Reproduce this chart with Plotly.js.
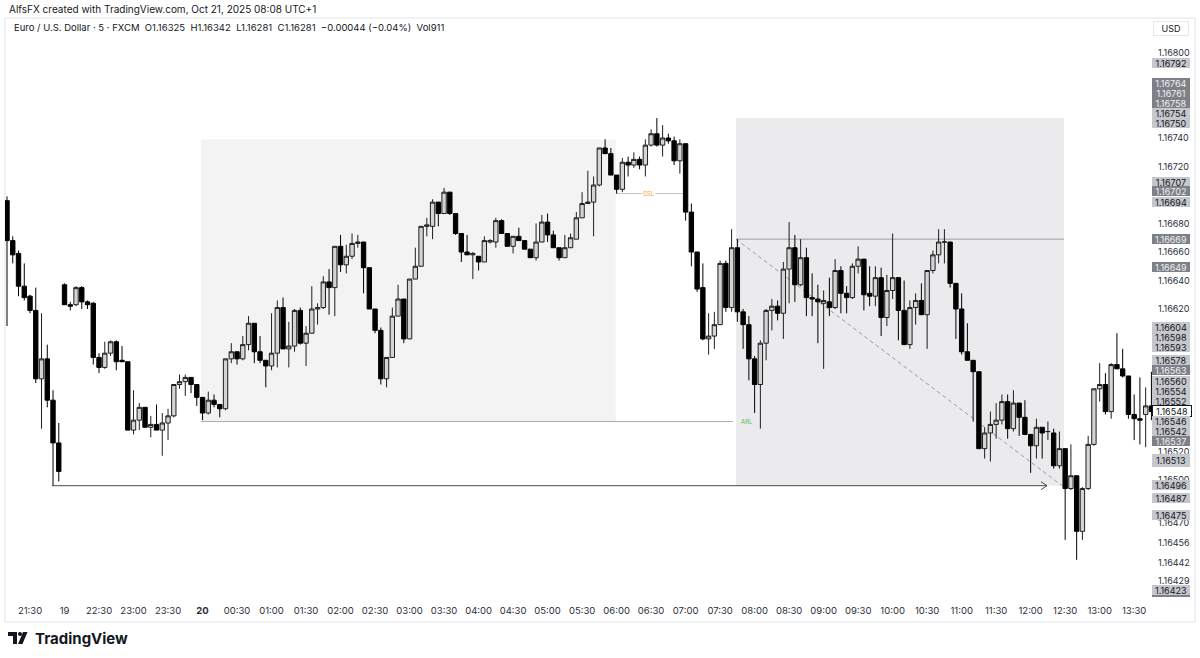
<!DOCTYPE html>
<html>
<head>
<meta charset="utf-8">
<script src="https://cdn.plot.ly/plotly-3.0.1.min.js"></script>
<style>html,body{margin:0;padding:0;background:#fff;}#chart{width:1200px;height:658px;}</style>
</head>
<body>
<div id="chart"></div>
<script>
// ---- DATA (EUR/USD 5m, FXCM) ----
const open = [1.16696,1.16668,1.16659,1.16636,1.16629,1.16619,1.16571,1.16585,1.16556,1.16526,
1.16637,1.16623,1.16623,1.16635,1.16625,1.16624,1.16586,1.16579,1.16589,1.16597,
1.16584,1.16583,1.16535,1.16542,1.16551,1.16537,1.16539,1.16535,1.16540,1.16545,
1.16567,1.16569,1.16572,1.16567,1.16558,1.16547,1.16556,1.16553,1.16550,1.16585,
1.16590,1.16585,1.16595,1.16610,1.16590,1.16584,1.16580,1.16589,1.16621,1.16592,
1.16594,1.16619,1.16596,1.16603,1.16620,1.16621,1.16639,1.16635,1.16664,1.16651,
1.16657,1.16666,1.16667,1.16649,1.16620,1.16605,1.16571,1.16586,1.16615,1.16627,
1.16599,1.16641,1.16650,1.16678,1.16678,1.16695,1.16687,1.16702,1.16687,1.16673,
1.16660,1.16658,1.16657,1.16653,1.16667,1.16667,1.16682,1.16673,1.16664,1.16671,
1.16668,1.16662,1.16656,1.16667,1.16681,1.16672,1.16663,1.16656,1.16663,1.16669,
1.16684,1.16694,1.16695,1.16707,1.16733,1.16729,1.16714,1.16704,1.16723,1.16721,
1.16725,1.16721,1.16735,1.16743,1.16735,1.16740,1.16738,1.16724,1.16736,1.16688,
1.16660,1.16635,1.16599,1.16601,1.16609,1.16652,1.16621,1.16663,1.16618,1.16609,
1.16585,1.16567,1.16596,1.16619,1.16622,1.16617,1.16648,1.16663,1.16637,1.16656,
1.16628,1.16627,1.16624,1.16625,1.16621,1.16647,1.16631,1.16628,1.16650,1.16655,
1.16631,1.16629,1.16642,1.16614,1.16633,1.16642,1.16619,1.16595,1.16621,1.16626,
1.16616,1.16647,1.16658,1.16667,1.16667,1.16638,1.16620,1.16590,1.16584,1.16576,
1.16522,1.16533,1.16539,1.16542,1.16555,1.16536,1.16554,1.16544,1.16532,1.16524,
1.16537,1.16534,1.16533,1.16510,1.16522,1.16494,1.16503,1.16464,1.16494,1.16525,
1.16564,1.16567,1.16548,1.16581,1.16578,1.16573,1.16546,1.16543,1.16546,1.16552];
const high = [1.16699,1.16671,1.16661,1.16652,1.16630,1.16635,1.16617,1.16595,1.16563,1.16540,
1.16638,1.16625,1.16636,1.16636,1.16626,1.16625,1.16589,1.16597,1.16598,1.16598,
1.16594,1.16583,1.16563,1.16554,1.16551,1.16545,1.16553,1.16547,1.16550,1.16567,
1.16574,1.16574,1.16572,1.16567,1.16558,1.16562,1.16560,1.16553,1.16585,1.16596,
1.16590,1.16601,1.16615,1.16610,1.16601,1.16584,1.16617,1.16626,1.16628,1.16611,
1.16620,1.16621,1.16608,1.16636,1.16624,1.16643,1.16648,1.16664,1.16672,1.16665,
1.16673,1.16672,1.16667,1.16649,1.16620,1.16607,1.16586,1.16621,1.16637,1.16627,
1.16641,1.16663,1.16678,1.16684,1.16697,1.16695,1.16705,1.16702,1.16687,1.16673,
1.16672,1.16660,1.16657,1.16671,1.16669,1.16684,1.16683,1.16673,1.16671,1.16677,
1.16668,1.16662,1.16680,1.16686,1.16687,1.16675,1.16663,1.16672,1.16673,1.16688,
1.16702,1.16717,1.16713,1.16733,1.16739,1.16733,1.16714,1.16726,1.16727,1.16730,
1.16727,1.16739,1.16746,1.16754,1.16749,1.16743,1.16741,1.16739,1.16736,1.16694,
1.16660,1.16652,1.16617,1.16618,1.16654,1.16654,1.16676,1.16669,1.16620,1.16615,
1.16587,1.16598,1.16620,1.16627,1.16626,1.16653,1.16681,1.16672,1.16669,1.16663,
1.16645,1.16637,1.16633,1.16642,1.16655,1.16650,1.16636,1.16652,1.16664,1.16655,
1.16650,1.16650,1.16649,1.16644,1.16673,1.16642,1.16640,1.16626,1.16631,1.16638,
1.16647,1.16661,1.16676,1.16676,1.16667,1.16638,1.16631,1.16610,1.16584,1.16576,
1.16537,1.16548,1.16554,1.16560,1.16560,1.16563,1.16554,1.16556,1.16532,1.16543,
1.16537,1.16541,1.16536,1.16534,1.16522,1.16525,1.16503,1.16495,1.16531,1.16564,
1.16582,1.16575,1.16582,1.16603,1.16592,1.16573,1.16560,1.16572,1.16565,1.16576];
const low = [1.16608,1.16652,1.16629,1.16626,1.16617,1.16568,1.16536,1.16551,1.16496,1.16499,
1.16623,1.16619,1.16622,1.16620,1.16620,1.16581,1.16575,1.16578,1.16587,1.16577,
1.16583,1.16535,1.16532,1.16535,1.16537,1.16530,1.16535,1.16517,1.16528,1.16544,
1.16564,1.16559,1.16561,1.16552,1.16542,1.16546,1.16551,1.16544,1.16549,1.16582,
1.16581,1.16584,1.16591,1.16582,1.16582,1.16565,1.16577,1.16579,1.16592,1.16579,
1.16590,1.16595,1.16580,1.16603,1.16609,1.16620,1.16616,1.16615,1.16646,1.16645,
1.16655,1.16663,1.16631,1.16620,1.16603,1.16567,1.16565,1.16586,1.16615,1.16596,
1.16599,1.16641,1.16650,1.16671,1.16669,1.16678,1.16687,1.16686,1.16672,1.16653,
1.16658,1.16641,1.16647,1.16653,1.16666,1.16663,1.16673,1.16664,1.16659,1.16668,
1.16662,1.16656,1.16654,1.16667,1.16667,1.16663,1.16654,1.16656,1.16663,1.16669,
1.16684,1.16694,1.16671,1.16706,1.16729,1.16714,1.16701,1.16702,1.16713,1.16719,
1.16718,1.16713,1.16734,1.16734,1.16727,1.16736,1.16721,1.16715,1.16682,1.16650,
1.16632,1.16598,1.16588,1.16592,1.16609,1.16618,1.16618,1.16611,1.16592,1.16570,
1.16547,1.16536,1.16584,1.16605,1.16612,1.16599,1.16624,1.16625,1.16636,1.16615,
1.16615,1.16596,1.16578,1.16615,1.16620,1.16617,1.16617,1.16627,1.16645,1.16619,
1.16622,1.16622,1.16601,1.16608,1.16627,1.16598,1.16595,1.16592,1.16609,1.16616,
1.16592,1.16645,1.16652,1.16652,1.16635,1.16599,1.16588,1.16584,1.16541,1.16522,
1.16515,1.16513,1.16529,1.16539,1.16529,1.16534,1.16531,1.16532,1.16505,1.16515,
1.16515,1.16528,1.16508,1.16508,1.16458,1.16493,1.16444,1.16458,1.16493,1.16524,
1.16555,1.16546,1.16543,1.16578,1.16572,1.16543,1.16528,1.16525,1.16523,1.16542];
const close = [1.16668,1.16658,1.16636,1.16628,1.16619,1.16571,1.16585,1.16556,1.16526,1.16506,
1.16623,1.16622,1.16635,1.16625,1.16623,1.16586,1.16579,1.16589,1.16597,1.16583,
1.16583,1.16535,1.16542,1.16551,1.16537,1.16539,1.16535,1.16540,1.16545,1.16567,
1.16569,1.16572,1.16567,1.16558,1.16547,1.16556,1.16553,1.16550,1.16585,1.16590,
1.16585,1.16595,1.16610,1.16590,1.16584,1.16580,1.16589,1.16621,1.16592,1.16594,
1.16619,1.16596,1.16603,1.16620,1.16621,1.16639,1.16635,1.16664,1.16651,1.16657,
1.16666,1.16667,1.16649,1.16620,1.16605,1.16571,1.16586,1.16615,1.16627,1.16599,
1.16641,1.16650,1.16678,1.16679,1.16695,1.16687,1.16702,1.16687,1.16673,1.16660,
1.16658,1.16659,1.16653,1.16668,1.16668,1.16682,1.16673,1.16664,1.16671,1.16668,
1.16662,1.16656,1.16667,1.16681,1.16672,1.16663,1.16656,1.16663,1.16670,1.16684,
1.16694,1.16695,1.16707,1.16733,1.16729,1.16714,1.16704,1.16723,1.16721,1.16725,
1.16721,1.16735,1.16743,1.16735,1.16740,1.16738,1.16724,1.16736,1.16688,1.16660,
1.16634,1.16599,1.16601,1.16609,1.16652,1.16621,1.16663,1.16618,1.16609,1.16585,
1.16567,1.16596,1.16619,1.16622,1.16617,1.16648,1.16663,1.16637,1.16656,1.16628,
1.16627,1.16625,1.16626,1.16621,1.16647,1.16631,1.16628,1.16650,1.16655,1.16630,
1.16629,1.16642,1.16614,1.16633,1.16642,1.16619,1.16595,1.16621,1.16626,1.16616,
1.16647,1.16658,1.16667,1.16667,1.16638,1.16620,1.16590,1.16584,1.16576,1.16522,
1.16533,1.16539,1.16542,1.16555,1.16536,1.16554,1.16544,1.16532,1.16524,1.16537,
1.16533,1.16534,1.16510,1.16522,1.16494,1.16503,1.16464,1.16494,1.16525,1.16564,
1.16567,1.16548,1.16581,1.16578,1.16573,1.16546,1.16543,1.16542,1.16552,1.16548];

const timeLabels = ["21:30","19","22:30","23:00","23:30","<b>20</b>","00:30","01:00","01:30","02:00","02:30","03:00","03:30","04:00","04:30","05:00","05:30","06:00","06:30","07:00","07:30","08:00","08:30","09:00","09:30","10:00","10:30","11:00","11:30","12:00","12:30","13:00","13:30"];
const priceTicks = [1.16800,1.16740,1.16720,1.16680,1.16660,1.16640,1.16620,1.16520,1.16500,1.16470,1.16456,1.16442,1.16429];
// price-scale labels: [value, style]  L=light, D=dark, W=current
const axisLabels = [
 ["1.16792","L"],["1.16764","D"],["1.16761","D"],["1.16758","D"],["1.16754","L"],["1.16750","L"],
 ["1.16707","L"],["1.16702","D"],["1.16694","L"],["1.16669","D"],["1.16649","D"],
 ["1.16604","L"],["1.16598","L"],["1.16593","L"],["1.16578","L"],["1.16563","D"],["1.16560","L"],
 ["1.16554","L"],["1.16552","L"],["1.16548","W"],["1.16546","L"],["1.16542","L"],["1.16537","D"],
 ["1.16513","L"],["1.16496","L"],["1.16487","L"],["1.16475","L"],["1.16423","L"]
];
// drawings (price levels)
const zoneA = {top:1.16739, bottom:1.16541};
const zoneB = {top:1.16754, bottom:1.16496};
const levelRange = 1.16669;
const levelSSL = 1.16701;
const levelARL = 1.16541;
const levelTarget = 1.16496;

// ---- LAYOUT GEOMETRY ----
const ML=5, MT=18, MR=48, MB=61, W=1200, H=658;
const PW=W-ML-MR, PH=H-MT-MB;
const px2x = p => (p-ML)/PW;
const py2y = p => (H-MB-p)/PH;
const xr=[-0.35,199.1];
const kx = px => xr[0] + (px-ML)/PW*(xr[1]-xr[0]);  // pixel -> candle index
const idx = open.map((_,i)=>i);
const tickIdx = timeLabels.map((_,j)=>4+6*j);

const FONT = "Inter, 'Noto Sans', Roboto, sans-serif";

const trace = {
  type:'candlestick', x:idx, open:open, high:high, low:low, close:close,
  increasing:{line:{color:'#1e1e1e',width:1}, fillcolor:'#d4d4d6'},
  decreasing:{line:{color:'#000000',width:1}, fillcolor:'#000000'},
  whiskerwidth:0, hoverinfo:'skip', showlegend:false
};

const shapes = [
  {type:'rect', xref:'paper', yref:'paper', x0:px2x(5), x1:px2x(1195), y0:py2y(622), y1:py2y(18), line:{color:'#e0e3eb',width:1}, fillcolor:'rgba(0,0,0,0)', layer:'below'},
  {type:'rect', x0:kx(201), x1:kx(615.7), y0:zoneA.bottom, y1:zoneA.top, fillcolor:'#f3f3f4', line:{width:0}, layer:'below'},
  {type:'rect', x0:kx(736), x1:kx(1064), y0:zoneB.bottom, y1:zoneB.top, fillcolor:'#ebebed', line:{width:0}, layer:'below'},
  {type:'line', x0:kx(736), x1:kx(1064), y0:levelRange, y1:levelRange, line:{color:'#9c9ea5',width:1}, layer:'below'},
  {type:'line', x0:kx(736), x1:kx(1062), y0:levelRange, y1:levelTarget, line:{color:'#9a9a9a',width:1,dash:'4px,3px'}, layer:'below'},
  {type:'line', x0:kx(201), x1:kx(733), y0:levelARL, y1:levelARL, line:{color:'#a9abb1',width:1}, layer:'below'},
  {type:'line', x0:kx(615.7), x1:kx(683), y0:levelSSL, y1:levelSSL, line:{color:'#c4c4c4',width:1}, layer:'below'},
  {type:'line', x0:kx(52), x1:kx(1047), y0:levelTarget, y1:levelTarget, line:{color:'#4a4a4a',width:1}, layer:'above'},
  {type:'path', xsizemode:'pixel', ysizemode:'pixel', xanchor:kx(1047), yanchor:levelTarget, path:'M-6,4 L0,0 L-6,-4', line:{color:'#4a4a4a',width:1}, layer:'above'},
  {type:'rect', xref:'paper', yref:'paper', x0:px2x(1152), x1:px2x(1190), y0:py2y(597), y1:py2y(595), fillcolor:'#7e8088', line:{width:0}},
  {type:'path', xref:'paper', yref:'paper', path:`M${px2x(8)},${py2y(632)} L${px2x(17)},${py2y(632)} L${px2x(17)},${py2y(644)} L${px2x(13)},${py2y(644)} L${px2x(13)},${py2y(636)} L${px2x(8)},${py2y(636)} Z`, fillcolor:'#131722', line:{width:0}},
  {type:'circle', xref:'paper', yref:'paper', x0:px2x(18), x1:px2x(22), y0:py2y(636), y1:py2y(632), fillcolor:'#131722', line:{width:0}},
  {type:'path', xref:'paper', yref:'paper', path:`M${px2x(23)},${py2y(632)} L${px2x(27.5)},${py2y(632)} L${px2x(22.5)},${py2y(644)} L${px2x(18)},${py2y(644)} Z`, fillcolor:'#131722', line:{width:0}}
];

const annotations = [
  {xref:'paper', yref:'paper', x:px2x(7), y:py2y(9), xanchor:'left', yanchor:'middle', showarrow:false,
   text:'AlfsFX created with TradingView.com, Oct 21, 2025 08:08 UTC+1', font:{family:FONT,size:10,color:'#131722'}},
  {xref:'paper', yref:'paper', x:px2x(12), y:py2y(27), xanchor:'left', yanchor:'middle', showarrow:false,
   text:'Euro / U.S. Dollar · 5 · FXCM\u00a0\u00a0O1.16325\u00a0\u00a0H1.16342\u00a0\u00a0L1.16281\u00a0\u00a0C1.16281\u00a0\u00a0−0.00044 (−0.04%)\u00a0\u00a0Vol911', font:{family:FONT,size:9.5,color:'#131722'}},
  {xref:'paper', yref:'paper', x:px2x(1153), y:py2y(28), xanchor:'left', yanchor:'middle', showarrow:false,
   text:'USD', width:34, height:13, bgcolor:'#ffffff', bordercolor:'#e6e8ee', borderwidth:1, borderpad:0, font:{family:FONT,size:9,color:'#131722'}},
  {x:kx(739), y:levelARL, xanchor:'left', yanchor:'middle', showarrow:false, text:'ARL', font:{family:FONT,size:6,color:'#5cb85c'}},
  {x:kx(649), y:levelSSL, xanchor:'center', yanchor:'middle', showarrow:false, text:'SSL', bgcolor:'#ffffff', borderpad:0, font:{family:FONT,size:6,color:'#f5a623'}},
  {xref:'paper', yref:'paper', x:px2x(33), y:py2y(638), xanchor:'left', yanchor:'middle', showarrow:false,
   text:'<b>TradingView</b>', font:{family:FONT,size:15,color:'#131722'}}
];

// stacked price labels on the scale (pixel rows)
const labelRows = [63,83,93,103,113,123,182,191,202,239,267,327,337,347,360,370,381,391,401,411,421,431,441,460,485,498,515,590];
axisLabels.forEach((l,i)=>{
  const st=l[1];
  const tall = (l[0]==='1.16513');
  annotations.push({xref:'paper', yref:'paper', x:px2x(1152), y:py2y(labelRows[i]), xanchor:'left', yanchor:'middle',
    showarrow:false, text:l[0], width:38, height: tall ? 13 : 10, borderpad:0,
    bgcolor: st==='D' ? '#7e8088' : (st==='W' ? '#ffffff' : '#c5c7cd'),
    bordercolor: st==='W' ? '#131722' : 'rgba(0,0,0,0)', borderwidth: st==='W' ? 1 : 0,
    font:{family:FONT,size:9,color: st==='D' ? '#f0f0f0' : '#131722'}});
});

const layout = {
  width:W, height:H, margin:{l:ML,r:MR,t:MT,b:MB,pad:0},
  paper_bgcolor:'#ffffff', plot_bgcolor:'#ffffff',
  showlegend:false, boxgap:0.2, boxgroupgap:0.05,
  font:{family:FONT,size:9.5,color:'#131722'},
  xaxis:{range:xr, showgrid:false, zeroline:false, showline:false, ticks:'', rangeslider:{visible:false},
    tickmode:'array', tickvals:tickIdx, ticktext:timeLabels, tickangle:0, ticklabelstandoff:6,
    tickfont:{family:FONT,size:9.5,color:'#2a2e39'}, fixedrange:true},
  yaxis:{range:[1.16620-(H-MB-309)/142500, 1.16620+(309-MT)/142500], side:'right', showgrid:false, zeroline:false, showline:false, ticks:'',
    tickmode:'array', tickvals:priceTicks, ticktext:priceTicks.map(v=>v.toFixed(5)), ticklabelstandoff:5,
    tickfont:{family:FONT,size:9,color:'#2a2e39'}, fixedrange:true},
  shapes:shapes, annotations:annotations
};

Plotly.newPlot('chart',[trace],layout,{staticPlot:true,displayModeBar:false});
</script>
</body>
</html>
